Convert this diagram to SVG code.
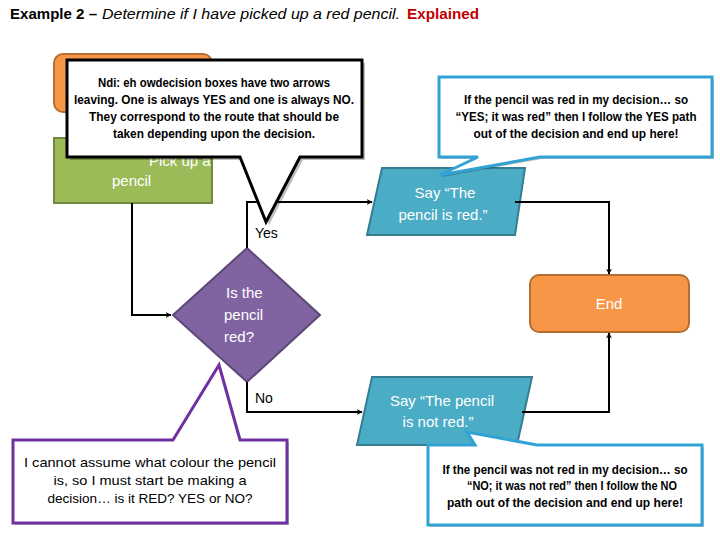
<svg xmlns="http://www.w3.org/2000/svg" width="720" height="540" viewBox="0 0 720 540">
<defs>
<style>
.t{font-family:"Liberation Sans",Arial,sans-serif}
.wt{fill:#fff;font-size:15px}
.lbl{fill:#000;font-size:14px}
.conn{fill:none;stroke:#000;stroke-width:2}
.term{fill:#f79646;stroke:#b66d31;stroke-width:2}
.cb{font-size:12.5px;font-weight:bold;fill:#000;text-anchor:middle}
.cn{font-size:13px;fill:#000;text-anchor:middle}
.shadow{fill:#000;opacity:0.25}
</style>
<marker id="arr" viewBox="0 0 10 10" refX="9" refY="5" markerWidth="6" markerHeight="6" orient="auto" markerUnits="userSpaceOnUse">
<path d="M0,0 L10,5 L0,10 L3,5 Z" fill="#000"/>
</marker>
</defs>
<rect width="720" height="540" fill="#fff"/>

<g id="title" class="t" font-size="14.5">
<text x="10" y="19" font-weight="bold" textLength="87" lengthAdjust="spacingAndGlyphs">Example 2 –</text>
<text x="102" y="19" font-style="italic" textLength="298" lengthAdjust="spacingAndGlyphs">Determine if I have picked up a red pencil.</text>
<text x="407" y="19" font-weight="bold" fill="#c00000" textLength="72" lengthAdjust="spacingAndGlyphs">Explained</text>
</g>

<g id="start">
<rect class="term" x="54" y="54" width="158" height="58" rx="9"/>
</g>

<g id="pick">
<rect x="54" y="138" width="158" height="65" fill="#9bbb59" stroke="#71893f" stroke-width="2"/>
<text class="t wt" font-size="16" x="149" y="166">Pick up a red</text>
<text class="t wt" font-size="16" x="112" y="186">pencil</text>
</g>

<g id="decision">
<polygon points="247,248 320,315 247,382 173,315" fill="#8064a2" stroke="#5c4776" stroke-width="2"/>
<text class="t wt" x="226" y="298">Is the</text>
<text class="t wt" x="224" y="320">pencil</text>
<text class="t wt" x="224" y="342">red?</text>
</g>

<g id="say-red">
<polygon points="382,168 525,168 515,235 367,235" fill="#4bacc6" stroke="#357d91" stroke-width="2"/>
<text class="t wt" x="445" y="198" text-anchor="middle">Say “The</text>
<text class="t wt" x="443" y="220" text-anchor="middle">pencil is red.”</text>
</g>

<g id="say-not-red">
<polygon points="372,377 532,377 517,445 357,445" fill="#4bacc6" stroke="#357d91" stroke-width="2"/>
<text class="t wt" x="442" y="406" text-anchor="middle">Say “The pencil</text>
<text class="t wt" x="438" y="427" text-anchor="middle">is not red.”</text>
</g>

<g id="end">
<rect class="term" x="530" y="275" width="159" height="57" rx="9"/>
<text class="t wt" x="609" y="309" text-anchor="middle">End</text>
</g>

<g id="connectors">
<polyline class="conn" points="132,203 132,315 171,315" marker-end="url(#arr)"/>
<polyline class="conn" points="247,248 247,202 372,202" marker-end="url(#arr)"/>
<polyline class="conn" points="247,382 247,412 362,412" marker-end="url(#arr)"/>
<polyline class="conn" points="515,202 609,202 609,274" marker-end="url(#arr)"/>
<polyline class="conn" points="522,412 609,412 609,333" marker-end="url(#arr)"/>
<text class="t lbl" x="255" y="238">Yes</text>
<text class="t lbl" x="255" y="403">No</text>
</g>

<g id="callout-decision-boxes">
<path class="shadow" d="M70,63 H365 V160 H303 L269,225 L243,160 H70 Z"/>
<path d="M67,60 H362 V157 H300 L266,222 L240,157 H67 Z" fill="#fff" stroke="#000" stroke-width="3" stroke-linejoin="miter"/>
<text class="t cb" x="214" y="87" textLength="232" lengthAdjust="spacingAndGlyphs">Ndi: eh owdecision boxes have two arrows</text>
<text class="t cb" x="214" y="104" textLength="280" lengthAdjust="spacingAndGlyphs">leaving. One is always YES and one is always NO.</text>
<text class="t cb" x="214" y="121" textLength="250" lengthAdjust="spacingAndGlyphs">They correspond to the route that should be</text>
<text class="t cb" x="214" y="138" textLength="202" lengthAdjust="spacingAndGlyphs">taken depending upon the decision.</text>
</g>

<g id="callout-yes">
<path class="shadow" d="M441,79 H714 V159 H542 L442,177 L480,159 H441 Z"/>
<path d="M439,77 H712 V157 H540 L440,175 L478,157 H439 Z" fill="#fff" stroke="#31a2d4" stroke-width="3"/>
<text class="t cb" x="576" y="104" textLength="224" lengthAdjust="spacingAndGlyphs">If the pencil was red in my decision… so</text>
<text class="t cb" x="576" y="121" textLength="241" lengthAdjust="spacingAndGlyphs">“YES; it was red” then I follow the YES path</text>
<text class="t cb" x="576" y="138" textLength="205" lengthAdjust="spacingAndGlyphs">out of the decision and end up here!</text>
</g>

<g id="callout-no">
<path class="shadow" d="M430,447 H477 L469,434 L539,447 H704 V527 H430 Z"/>
<path d="M428,445 H475 L467,432 L537,445 H702 V525 H428 Z" fill="#fff" stroke="#31a2d4" stroke-width="3"/>
<text class="t cb" x="565" y="474" textLength="245" lengthAdjust="spacingAndGlyphs">If the pencil was not red in my decision… so</text>
<text class="t cb" x="572" y="490" textLength="210" lengthAdjust="spacingAndGlyphs">“NO; it was not red” then I follow the NO</text>
<text class="t cb" x="565" y="507" textLength="236" lengthAdjust="spacingAndGlyphs">path out of the decision and end up here!</text>
</g>

<g id="callout-assume">
<path class="shadow" d="M15,442 H175 L221,367 L242,442 H289 V525 H15 Z"/>
<path d="M13,440 H173 L219,365 L240,440 H287 V523 H13 Z" fill="#fff" stroke="#7030a0" stroke-width="3"/>
<text class="t cn" x="150" y="467" textLength="252" lengthAdjust="spacingAndGlyphs">I cannot assume what colour the pencil</text>
<text class="t cn" x="150" y="485" textLength="193" lengthAdjust="spacingAndGlyphs">is, so I must start be making a</text>
<text class="t cn" x="150" y="503" textLength="205" lengthAdjust="spacingAndGlyphs">decision… is it RED? YES or NO?</text>
</g>
</svg>
